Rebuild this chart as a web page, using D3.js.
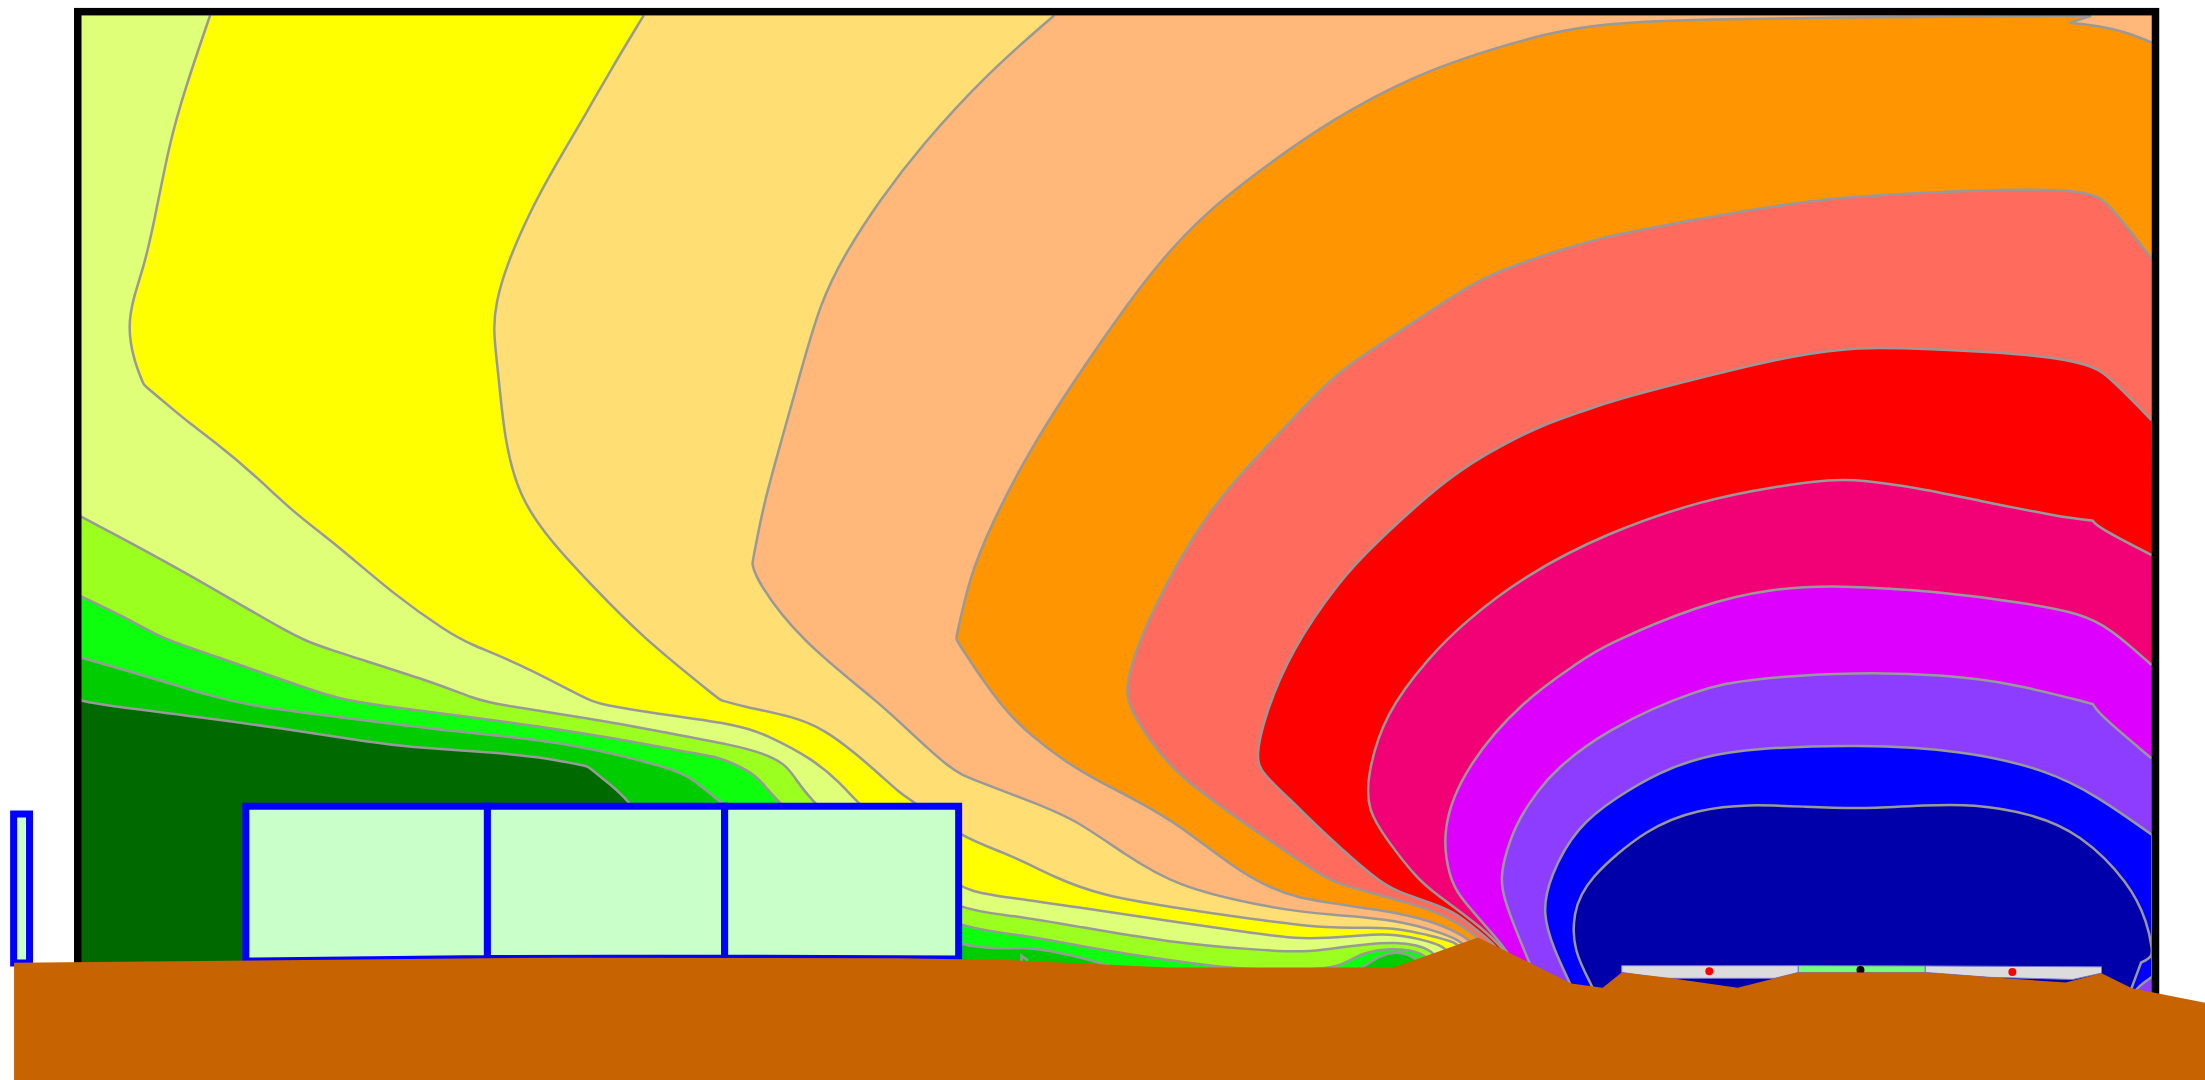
<!DOCTYPE html>
<html lang="en">
  <head>
    <meta charset="UTF-8" />
    <title>Contour plot</title>
    <script src="https://d3js.org/d3.v7.min.js"></script>
    <style>
      body { margin: 0; background: #fff; overflow: hidden; }
      svg { display: block; }
    </style>
  </head>
  <body>
    <svg id="chart" width="2205" height="1080"></svg>

    <script>
      // contour lines, lowest level first, in section units [x, y]
      // a point given more than once keeps a sharp corner in the spline
      const contour01 = [[57,498],[71.4,501.3],[129.5,508.4],[202,518],[263.7,528],[289,531],[347,535],[383.4,538],[418,545],[418,545],[434,558],[448,569],[500,640],[560,695]];
      const contour02 = [[57,467.4],[93.2,477.6],[155,496.6],[180,502],[238,509.6],[311,519],[376,525],[420,532],[478,546.4],[492,553.5],[510.4,569],[600,640],[684.4,676.3],[725.7,673.2],[748,676],[783,684.3],[800,692],[960,692],[969.5,687.9],[981.4,679.1],[993.2,676.8],[1000.3,678.4],[1006.3,681.5],[1020,692]];
      const contour03 = [[57,423.8],[97,443],[115,454],[147.6,464.6],[227.4,493],[245.6,497.8],[274.6,502.5],[369,514.3],[438,525],[492.3,535.7],[510.4,538],[532,547.5],[543,557],[551,569],[620,630],[684,661],[722.5,663.7],[783,675.6],[830.5,682.7],[881,690],[947,690],[960,682.7],[972,676.8],[988.5,674.4],[1002.7,675.6],[1013.4,679.1],[1019,686]];
      const contour04 = [[57,367],[129.5,405.3],[209.3,452.7],[227.4,459.8],[311,486],[336.3,496.6],[354.4,501.3],[419.7,510.8],[474,521],[521.3,529.8],[543,535.7],[557.6,542.8],[565,552.3],[576,569],[630,620],[684.4,648],[719.4,650.7],[767,659],[830.5,670],[894,675.6],[929,677.2],[948.2,674.4],[971.9,671.3],[993.2,670.1],[1007.5,672],[1018.1,676],[1024,684]];
      const contour05 = [[149.4,10.9],[131.3,64],[120.4,101.9],[109.5,158.8],[102.3,189.6],[95,210.9],[90.8,232.3],[95,256],[102.3,273.7],[102.3,273.7],[120.4,289],[134.9,301],[151,312.9],[180,336.6],[209.3,365],[238.3,386.4],[282,424.3],[318,449.2],[332.6,457.5],[369,471.7],[416,496.6],[427,501.3],[474,508.4],[525,515.5],[543,521.5],[579.3,540.4],[597.5,557],[608.4,569],[650,610],[684.4,631.7],[699,636],[767,645],[830.5,655],[894,664],[924.5,668],[960,666.1],[983.8,663.7],[1002.7,666.1],[1026.4,672],[1032,680]];
      const contour06 = [[457.8,10.9],[434.2,49.8],[419.7,75.8],[394.3,118.5],[376.2,151.7],[359.8,189.6],[352.6,215.7],[350.6,234.6],[354.4,265.4],[358.7,312.9],[369,353],[390.7,384],[419.7,415],[456,452.7],[512.2,497.8],[512.2,497.8],[528.5,502.5],[564.8,509.6],[586.6,519],[608.4,535.7],[625.8,551],[640,564],[649.5,570],[684.4,596],[719.4,608],[751,624.6],[782.9,636.5],[830.5,644.8],[894,654.2],[924.5,657.8],[948.2,659.7],[971.9,659.7],[995.6,660.2],[1014.6,664.9],[1035.9,669.6],[1042,678]];
      const contour07 = [[749.7,10.9],[702,52.1],[654.5,104.3],[625.9,142],[601,180],[583,215.7],[568.5,267.8],[555.8,312.9],[543,358],[535,400.6],[535,400.6],[537.6,412.4],[568.5,455],[625.8,500],[648,521.5],[676.7,547.6],[689.4,553.5],[730.7,569],[763.8,582],[798.8,607],[836.9,630.5],[894,643.6],[924.5,648.3],[948.2,650.7],[971.9,652.3],[995.6,655.4],[1019.3,661.4],[1038.3,668.5],[1045,676]];
      const contour08 = [[1530.5,30.4],[1512.4,23],[1493.4,18.5],[1472,16.1],[1472,16.1],[1472,16.1],[1487,11.4],[1487,11.4],[1487,11.4],[1372.6,11.8],[1197.3,13.7],[1140.2,17],[1102,23.2],[1054.5,36.7],[1006.9,53.3],[949.7,83],[892.6,123.2],[854.5,154],[825.9,184.9],[803.7,213.4],[765.6,267.9],[730.7,322.4],[705.3,372.2],[689.4,410],[679.9,454],[679.9,454],[683,460],[711.6,502.5],[733.9,523.9],[759.3,542.8],[779.7,554.7],[811.5,571],[836.9,585.5],[878,617.5],[903.5,631.7],[924.5,638.8],[948.2,642.4],[971.9,646],[995.6,649.5],[1019.3,655.4],[1043,666],[1052,676]];
      const contour09 = [[1530,183.7],[1501.8,148],[1493.4,139.9],[1476.9,135.6],[1446,134.6],[1398.8,135.6],[1351.4,138],[1292.6,141],[1197.3,157.6],[1140.2,168.3],[1102,180],[1054.5,196.7],[1029,213.4],[975,249],[946.6,267.9],[905.3,313],[857.7,362.7],[816.4,438.5],[799.5,486],[803,505],[825.9,538],[843,554.7],[862.4,569],[881.3,583],[919.4,609],[944.6,625.8],[955.3,629.4],[976.6,635.3],[1002.7,642.4],[1024,649.5],[1040.6,659],[1050,666],[1058,675]];
      const contour10 = [[1530,298.7],[1497.8,265.5],[1485.8,259.6],[1455.9,252.5],[1366,247.8],[1321.2,246.6],[1276.3,252.5],[1216.5,266.7],[1147.6,284.5],[1123.7,293],[1096.7,302.3],[1070.4,315.3],[1032.3,336.6],[975.2,388.8],[952.9,412.5],[918,462.3],[899,509.7],[892.8,539],[897.4,550],[918,569],[941.6,592.6],[979,625.8],[993.2,634],[1019.3,642.4],[1035.9,649.5],[1050,661.4],[1062,670.8],[1070,682]];
      const contour11 = [[1530,394.7],[1491.8,375],[1488.2,370.3],[1488.2,370.3],[1488.2,370.3],[1464.9,367.5],[1405,355.6],[1366,347.3],[1324.2,341.4],[1303.2,340.7],[1261.3,346.1],[1210.5,355.6],[1141.6,379.3],[1084.8,408.9],[1041.8,442],[1016.4,467],[984.7,507.3],[972,552],[972.5,576],[986,597],[1008.3,625.8],[1024,637.7],[1038.3,648.3],[1052.5,659],[1069,674.4],[1075,685]];
      const contour12 = [[1530,472.9],[1500.8,446.8],[1479.8,436.2],[1441,429],[1381,420.8],[1306.2,416],[1261.3,418.4],[1210.5,429],[1138.6,459.9],[1123.7,470.5],[1083,497.8],[1041.8,545.2],[1024.5,590],[1031,625.8],[1038.3,637.7],[1052.5,654.2],[1064.3,667.3],[1072.6,678],[1078,688]];
      const contour13 = [[1530,539.3],[1493.3,508.5],[1488.2,500.6],[1488.2,500.6],[1488.2,500.6],[1432,486],[1384,480],[1321.2,477.7],[1246.4,482.4],[1207.5,489.5],[1141.6,519],[1105.7,547.6],[1094,562],[1080,582],[1071,605],[1066.8,625],[1070,640],[1076,656.6],[1087.7,685],[1092,695]];
      const contour14 = [[1516,708],[1521,701],[1530.5,694.5],[1530.5,694.5],[1530.5,694.5],[1530.5,593.8],[1530.5,593.8],[1530.5,593.8],[1492,566.5],[1456,547.6],[1396,533.4],[1321.2,529.3],[1246.4,532.2],[1210.5,538],[1180.5,548.8],[1150,566.5],[1121,588],[1102,623.4],[1096.5,649.5],[1105.2,675.6],[1116.4,699],[1120,708]];
      const contour15 = [[1513,710],[1513,710],[1522.5,684.6],[1522.5,684.6],[1522.5,684.6],[1530.5,680.3],[1530.5,675.6],[1527.3,656.6],[1514.5,628],[1479.3,592.6],[1444.2,578.4],[1402.6,571.8],[1370.6,572.5],[1322.6,575.3],[1284.3,573.7],[1242.7,571.8],[1207.5,575.6],[1172.3,587.9],[1127.6,625.8],[1118.6,649.5],[1118.6,675.6],[1132.4,701.6],[1136,710]];
      const contourSpeck = [[726.4,684],[726.4,679.6],[731,683]];
      const contours = [contour01, contour02, contour03, contour04, contour05, contour06, contour07, contour08, contour09, contour10, contour11, contour12, contour13, contour14, contour15];

      // outline of the ground and the other section parts
      const groundLine = [[10,684.6],[394.6,681],[640,681.5],[716,682.7],[830.5,688],[991,688],[1051,666.6],[1117.3,699.3],[1139.7,702.4],[1153.2,691.5],[1183.5,695],[1235.7,702.4],[1278.8,691.5],[1369,691.5],[1415.4,695],[1469,698.6],[1494.4,692],[1516,702.8],[1568,713],[1568,768],[10,768]];
      const boxCells = [
        [[174.8,573.3],[346.6,573.3],[346.6,681.6],[174.8,683.4]],
        [[346.6,573.3],[515.3,573.3],[515.3,681.3],[346.6,681.6]],
        [[515.3,573.3],[681.7,573.3],[681.7,682],[515.3,681.3]],
      ];
      const sideBox = [[9.7,578.8],[21,578.8],[21,684.8],[9.7,684.8]];
      const plateLeft = [[1153.2,686.7],[1278.8,686.7],[1278.8,691.5],[1262,695.7],[1183.5,695.7],[1153.2,691.5]];
      const plateMiddle = [[1278.8,686.7],[1369,686.9],[1369,691.5],[1278.8,691.5]];
      const plateRight = [[1369,686.9],[1494.4,687.5],[1494.4,692],[1474,696.5],[1415,695],[1369,691.5]];
      const redDots = [[1215.5,690.7],[1431,691.2]];
      const blackDots = [[1323,689.8]];
      const plotArea = { left: 55.3, right: 1532.8, top: 8.3, bottom: 730 };

      const bandColors = ["#00cc00", "#0dff0d", "#9bff20", "#e0ff78", "#ffff00", "#ffdf73", "#ffb77a", "#ff9500", "#ff6b5c", "#ff0000", "#f20075", "#dd00ff", "#8c3dff", "#0000ff", "#0000aa"];

      const svg = d3.select("#chart");
      const width = +svg.attr("width");
      const height = +svg.attr("height");

      const xScale = d3.scaleLinear().domain([0, 1568]).range([0, width]);
      const yScale = d3.scaleLinear().domain([0, 768]).range([0, height]);

      const smoothLine = d3.line()
        .x((d) => xScale(d[0]))
        .y((d) => yScale(d[1]))
        .curve(d3.curveBasis);
      const straightLine = d3.line()
        .x((d) => xScale(d[0]))
        .y((d) => yScale(d[1]));

      svg.append("clipPath").attr("id", "plotClip")
        .append("rect")
        .attr("x", xScale(plotArea.left))
        .attr("y", yScale(plotArea.top))
        .attr("width", xScale(plotArea.right) - xScale(plotArea.left))
        .attr("height", yScale(768) - yScale(plotArea.top));

      const plot = svg.append("g").attr("clip-path", "url(#plotClip)");

      // lowest band fills the whole plot, the rest are painted over it
      plot.append("rect")
        .attr("x", xScale(plotArea.left))
        .attr("y", yScale(plotArea.top))
        .attr("width", xScale(plotArea.right) - xScale(plotArea.left))
        .attr("height", yScale(768) - yScale(plotArea.top))
        .attr("fill", "#006a00");

      // close a contour round the side of the plot that holds the higher values
      function bandPath(points) {
        const first = points[0];
        const last = points[points.length - 1];
        const ring = [[last[0], 768], [plotArea.right, 768]];
        if (first[0] < 60) {
          ring.push([plotArea.right, 0], [plotArea.left, 0], [plotArea.left, first[1]]);
        } else if (first[1] < 15) {
          ring.push([plotArea.right, 0], [first[0], 0]);
        }
        const tail = ring.map((d) => `L${xScale(d[0])},${yScale(d[1])}`).join("");
        return smoothLine(points) + tail + "Z";
      }

      contours.forEach((points, i) => {
        plot.append("path")
          .attr("d", bandPath(points))
          .attr("fill", bandColors[i]);
        plot.append("path")
          .attr("d", smoothLine(points))
          .attr("fill", "none")
          .attr("stroke", "#999999")
          .attr("stroke-width", 2.5);
      });

      plot.append("path")
        .attr("d", straightLine(contourSpeck))
        .attr("fill", "none")
        .attr("stroke", "#999999")
        .attr("stroke-width", 2.5);

      // frame
      svg.append("rect")
        .attr("x", xScale(plotArea.left))
        .attr("y", yScale(plotArea.top))
        .attr("width", xScale(plotArea.right) - xScale(plotArea.left))
        .attr("height", yScale(plotArea.bottom) - yScale(plotArea.top))
        .attr("fill", "none")
        .attr("stroke", "#000")
        .attr("stroke-width", 7.5);

      // building cells
      svg.selectAll(".cell")
        .data(boxCells.concat([sideBox]))
        .enter()
        .append("path")
        .attr("class", "cell")
        .attr("d", (d) => straightLine(d) + "Z")
        .attr("fill", "#c9ffc9")
        .attr("stroke", "#0000ff")
        .attr("stroke-width", 7);

      // plates under the ground line
      const plates = [
        { points: plateLeft, fill: "#dcdcdc" },
        { points: plateRight, fill: "#dcdcdc" },
        { points: plateMiddle, fill: "#77ff77" },
      ];
      svg.selectAll(".plate")
        .data(plates)
        .enter()
        .append("path")
        .attr("class", "plate")
        .attr("d", (d) => straightLine(d.points) + "Z")
        .attr("fill", (d) => d.fill)
        .attr("stroke", "#7777cc")
        .attr("stroke-width", 1);

      svg.selectAll(".blackDot")
        .data(blackDots)
        .enter()
        .append("circle")
        .attr("class", "blackDot")
        .attr("cx", (d) => xScale(d[0]))
        .attr("cy", (d) => yScale(d[1]))
        .attr("r", 4)
        .attr("fill", "#000");

      svg.append("path")
        .attr("d", straightLine(groundLine) + "Z")
        .attr("fill", "#c76300");

      svg.selectAll(".redDot")
        .data(redDots)
        .enter()
        .append("circle")
        .attr("class", "redDot")
        .attr("cx", (d) => xScale(d[0]))
        .attr("cy", (d) => yScale(d[1]))
        .attr("r", 4)
        .attr("fill", "#ff0000");
    </script>
  </body>
</html>
